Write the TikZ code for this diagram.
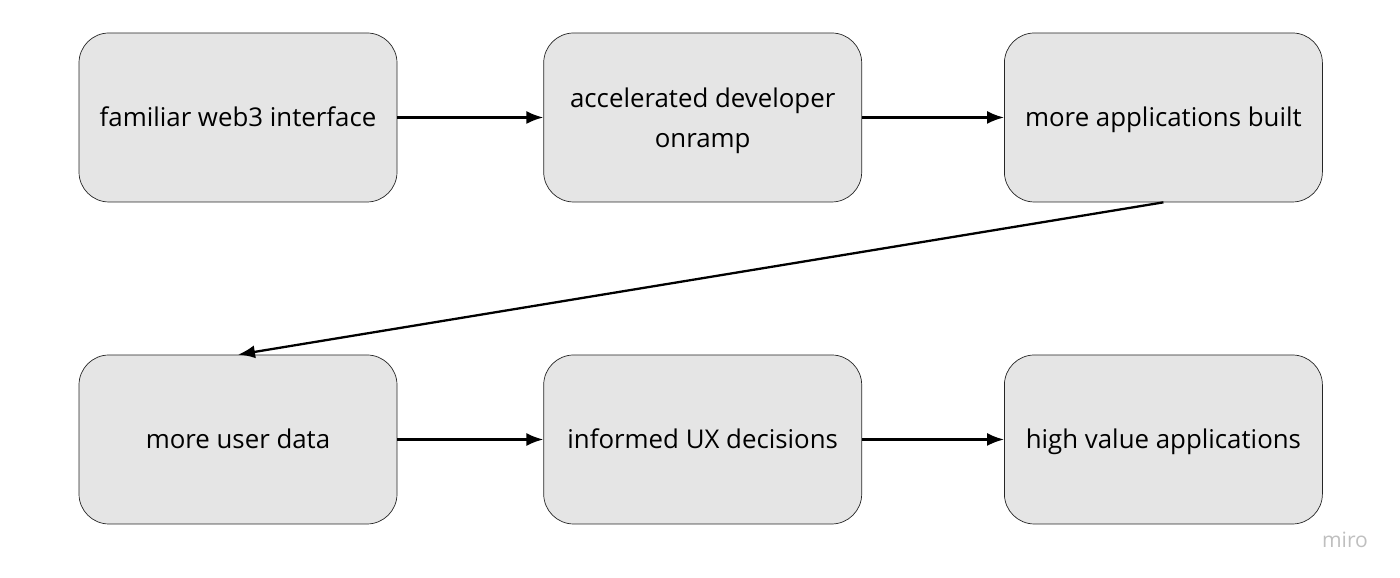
\documentclass[tikz,border=0pt]{standalone}
\usepackage{fontspec}
\setmainfont{Open Sans}
\usetikzlibrary{positioning,arrows.meta}

\begin{document}
\begin{tikzpicture}
  [stepbox/.style={draw=black!85, thin, fill=black!10, rounded corners=0.6cm,
     minimum width=6.36cm, minimum height=3.38cm, align=center,
     font=\fontsize{14.7}{22.5}\selectfont},
   oneline/.style={stepbox, text height=1.28em, text depth=0.3em},
   flow/.style={-{Latex[length=3.4mm,width=2.6mm]}, line width=1.3pt}]
  \useasboundingbox (0,0) rectangle (28,11.56);
  % top row
  \node[oneline] (web3) at (4.76,9.21) {familiar web3 interface};
  \node[stepbox, right=2.92cm of web3, text depth=0pt] (onramp) {accelerated developer\\onramp};
  \node[oneline, right=2.84cm of onramp] (apps) {more applications built};
  % bottom row
  \node[oneline] (data) at (4.76,2.77) {more user data};
  \node[oneline, right=2.92cm of data] (ux) {informed UX decisions};
  \node[oneline, right=2.84cm of ux] (value) {high value applications};
  \draw[flow] (web3) -- (onramp);
  \draw[flow] (onramp) -- (apps);
  \draw[flow] (apps.south) -- (data.north);
  \draw[flow] (data) -- (ux);
  \draw[flow] (ux) -- (value);
  \node[text=black!25, font=\fontsize{12}{14}\selectfont] (miro) at (26.9,0.77) {miro};
\end{tikzpicture}
\end{document}
